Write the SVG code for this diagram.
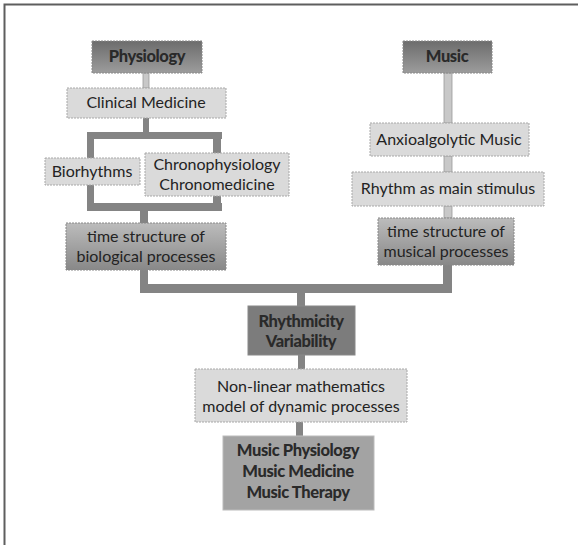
<svg xmlns="http://www.w3.org/2000/svg" width="579" height="545" viewBox="0 0 579 545">
<defs>
<linearGradient id="gDark" x1="0" y1="0" x2="0" y2="1"><stop offset="0" stop-color="#6c6c6c"/><stop offset="1" stop-color="#9c9c9c"/></linearGradient>
<linearGradient id="gMid" x1="0" y1="0" x2="0" y2="1"><stop offset="0" stop-color="#bcbcbc"/><stop offset="1" stop-color="#888888"/></linearGradient>
<style>
.light{fill:#dadada;stroke:#a8a8a8;stroke-width:1;stroke-dasharray:2 1}
.dark{fill:url(#gDark);stroke:#888;stroke-width:1;stroke-dasharray:2 1}
.mid{fill:url(#gMid);stroke:#888;stroke-width:1;stroke-dasharray:2 1}
.flat{fill:#7c7c7c;stroke:#888;stroke-width:1}
.flat2{fill:#a3a3a3;stroke:#bbb;stroke-width:1}
text{font-family:Lato,"Open Sans","Liberation Sans",sans-serif;fill:#232323;text-anchor:middle;font-size:16px}
.b{font-weight:900;font-size:16.5px;letter-spacing:-0.4px;fill:#2a2a2a}
.cd{fill:#848484}
.cl{fill:#c8c8c8;stroke:#9a9a9a;stroke-width:0.8}
</style>
</defs>
<rect x="0" y="0" width="579" height="545" fill="#fff"/>
<path d="M4.5 545 V4.5 H578" fill="none" stroke="#5e5e5e" stroke-width="2"/>
<g id="connectors">
<rect class="cl" x="143" y="73" width="6" height="15"/>
<rect class="cd" x="143" y="118" width="6" height="14"/>
<rect class="cd" x="87" y="132" width="135" height="7"/>
<rect class="cd" x="87" y="139" width="7" height="19"/>
<rect class="cd" x="213" y="139" width="8" height="14"/>
<rect class="cd" x="87" y="185" width="7" height="19"/>
<rect class="cd" x="213" y="196" width="8" height="8"/>
<rect class="cd" x="87" y="203" width="135" height="8"/>
<rect class="cd" x="140" y="211" width="8" height="12"/>
<rect class="cd" x="140" y="270" width="8" height="23"/>
<rect class="cd" x="140" y="284" width="312" height="9"/>
<rect class="cd" x="443" y="265" width="9" height="28"/>
<rect class="cd" x="297" y="293" width="8" height="13"/>
<rect class="cl" x="444" y="73" width="8" height="50"/>
<rect class="cl" x="444" y="156" width="8" height="16"/>
<rect class="cl" x="444" y="206" width="8" height="12"/>
<rect class="cd" x="298" y="355" width="7" height="14"/>
<rect class="cd" x="296" y="422" width="7" height="14"/>
</g>
<g id="physiology"><rect class="dark" x="92" y="41" width="110" height="32"/><text class="b" x="147" y="62">Physiology</text></g>
<g id="clinical-medicine"><rect class="light" x="67" y="88" width="159" height="30"/><text x="146" y="108">Clinical Medicine</text></g>
<g id="biorhythms"><rect class="light" x="45" y="158" width="95" height="27"/><text x="92" y="177">Biorhythms</text></g>
<g id="chrono"><rect class="light" x="145" y="153" width="144" height="43"/><text x="217" y="170">Chronophysiology</text><text x="217" y="189.5">Chronomedicine</text></g>
<g id="time-bio"><rect class="mid" x="66" y="223" width="160" height="47"/><text x="146" y="242">time structure of</text><text x="146" y="262">biological processes</text></g>
<g id="music"><rect class="dark" x="403" y="41" width="89" height="32"/><text class="b" x="447" y="62">Music</text></g>
<g id="anxioalgolytic"><rect class="light" x="370" y="123" width="159" height="33"/><text x="449" y="145">Anxioalgolytic Music</text></g>
<g id="rhythm-stimulus"><rect class="light" x="352" y="172" width="192" height="34"/><text x="448" y="194">Rhythm as main stimulus</text></g>
<g id="time-music"><rect class="mid" x="378" y="218" width="136" height="47"/><text x="446" y="237">time structure of</text><text x="446" y="257">musical processes</text></g>
<g id="rhythmicity"><rect class="flat" x="248" y="306" width="107" height="49"/><text class="b" x="301" y="327">Rhythmicity</text><text class="b" x="301" y="347">Variability</text></g>
<g id="nonlinear"><rect class="light" x="195" y="369" width="212" height="53"/><text x="301" y="392">Non-linear mathematics</text><text x="301" y="412">model of dynamic processes</text></g>
<g id="music-physiology"><rect class="flat2" x="223" y="436" width="151" height="74"/><text class="b" x="298" y="456">Music Physiology</text><text class="b" x="298" y="477">Music Medicine</text><text class="b" x="298" y="498">Music Therapy</text></g>
</svg>
